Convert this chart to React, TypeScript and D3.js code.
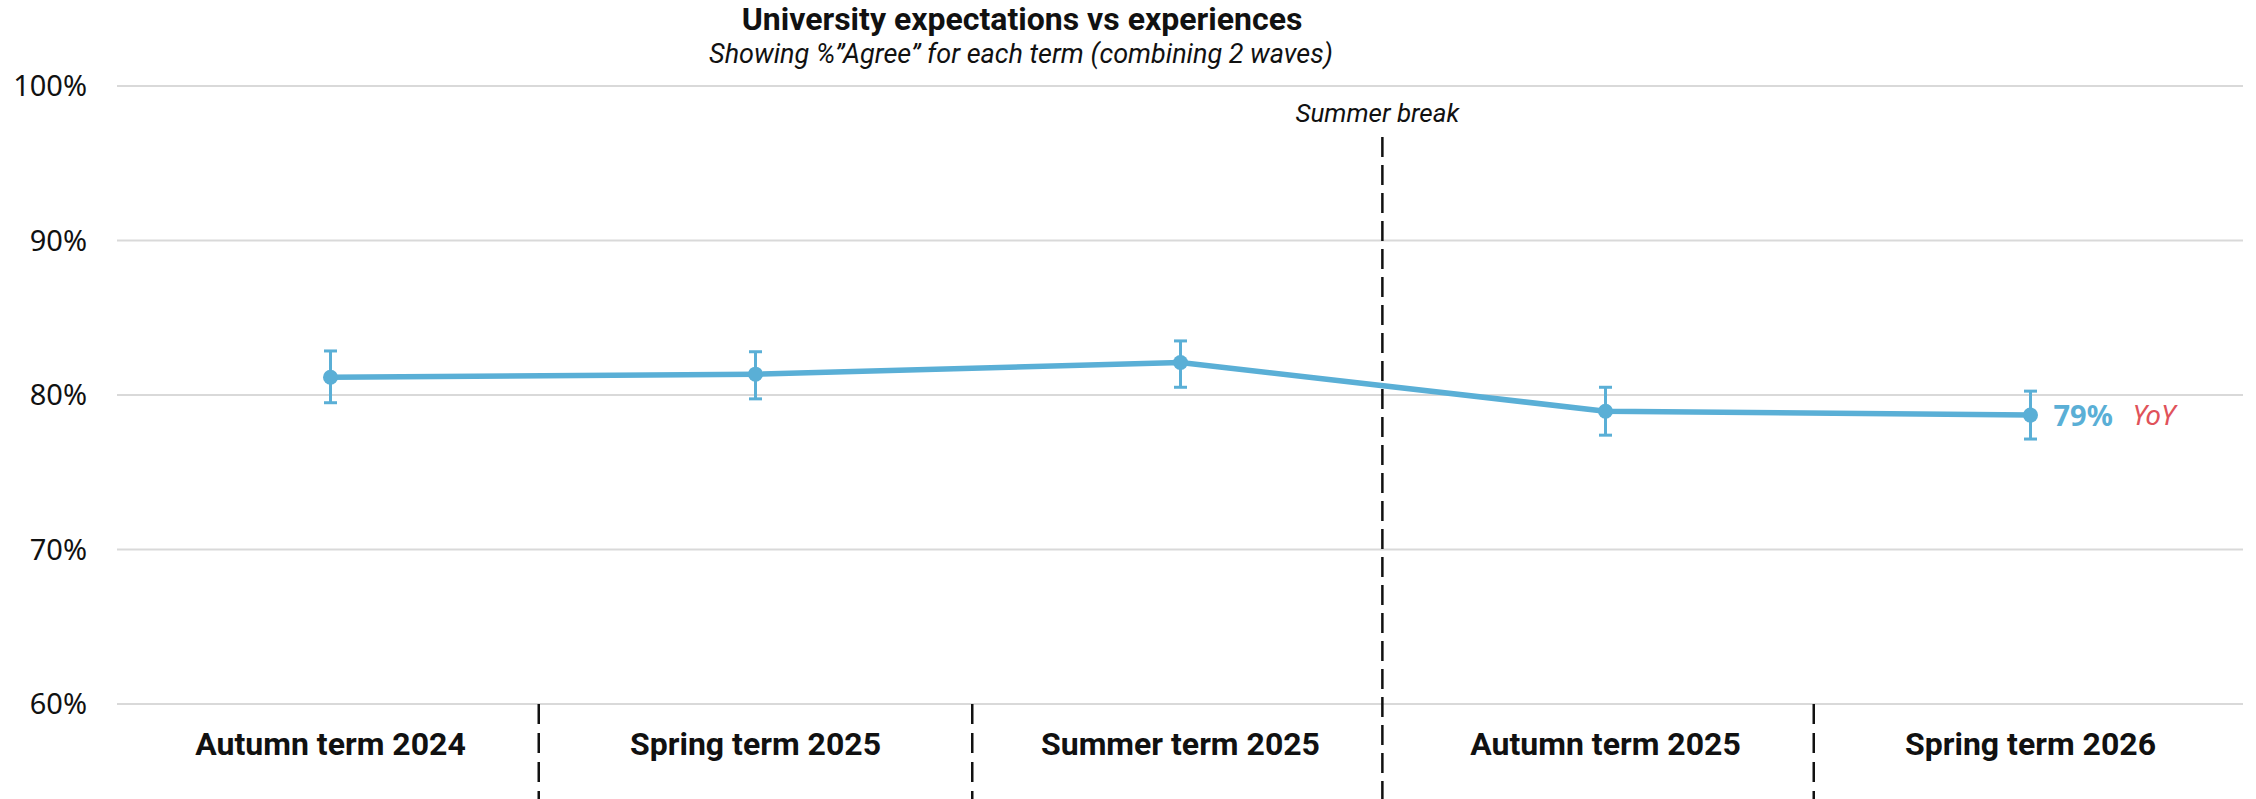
import React from "react";
import * as d3 from "d3";

const categories = ["Autumn term 2024", "Spring term 2025", "Summer term 2025", "Autumn term 2025", "Spring term 2026"];
const values = [81.15, 81.35, 82.1, 78.95, 78.7];
const errLow = [79.5, 79.75, 80.5, 77.4, 77.15];
const errHigh = [82.85, 82.8, 83.5, 80.5, 80.25];
const yTicks = [60, 70, 80, 90, 100];
const separators = [0.49, 1.51, 3.49];
const summerBreakAt = 2.475;
const lastLabel = "79%";
const lastTag = "YoY";

const W = 2256;
const H = 799;
const BLUE = "#5aafd6";

export default function App() {
  const x = d3.scaleBand<string>().domain(categories).range([118, 2243]).padding(0);
  const cx = (c: string) => (x(c) as number) + x.bandwidth() / 2;
  const xi = d3.scaleLinear().domain([0, categories.length - 1]).range([cx(categories[0]), cx(categories[categories.length - 1])]);
  const y = d3.scaleLinear().domain([60, 100]).range([704, 86]);
  const line = d3.line<number>().x((_, i) => cx(categories[i])).y((v) => y(v));
  const lastI = values.length - 1;

  return (
    <div style={{ position: "absolute", left: 0, top: 0 }}>
      <svg width={W} height={H} style={{ display: "block", background: "#fff" }}>
        <text x={1022} y={30} textAnchor="middle" fontFamily="Roboto" fontWeight={700} fontSize={32} fill="#111">
          University expectations vs experiences
        </text>
        <text x={1021} y={63} textAnchor="middle" fontFamily="Roboto" fontStyle="italic" fontSize={27} fill="#111">
          Showing %”Agree” for each term (combining 2 waves)
        </text>
        {yTicks.map((t) => (
          <g key={t}>
            <line x1={117} x2={2243} y1={y(t)} y2={y(t)} stroke="#d9d9d9" strokeWidth={2} />
            <text x={87} y={y(t)} dy="0.36em" textAnchor="end" fontFamily="Noto Sans" fontSize={29} fill="#111">
              {t}%
            </text>
          </g>
        ))}
        {separators.map((s) => (
          <line key={s} x1={xi(s)} x2={xi(s)} y1={y(60)} y2={H} stroke="#111" strokeWidth={2.5} strokeDasharray="20,9" />
        ))}
        <line x1={xi(summerBreakAt)} x2={xi(summerBreakAt)} y1={137} y2={H} stroke="#111" strokeWidth={2.5} strokeDasharray="20,8" />
        <text x={xi(summerBreakAt) - 5} y={122} textAnchor="middle" fontFamily="Roboto" fontStyle="italic" fontSize={26} fill="#111">
          Summer break
        </text>
        {categories.map((c) => (
          <text key={c} x={cx(c)} y={755} textAnchor="middle" fontFamily="Roboto" fontWeight={700} fontSize={32} fill="#111">
            {c}
          </text>
        ))}
        <path d={line(values) || ""} fill="none" stroke={BLUE} strokeWidth={5.5} strokeLinejoin="round" />
        {categories.map((c, i) => (
          <g key={c} stroke={BLUE} strokeWidth={3}>
            <line x1={cx(c)} x2={cx(c)} y1={y(errLow[i])} y2={y(errHigh[i])} />
            <line x1={cx(c) - 6.5} x2={cx(c) + 6.5} y1={y(errLow[i])} y2={y(errLow[i])} />
            <line x1={cx(c) - 6.5} x2={cx(c) + 6.5} y1={y(errHigh[i])} y2={y(errHigh[i])} />
            <circle cx={cx(c)} cy={y(values[i])} r={7.5} fill={BLUE} stroke="none" />
          </g>
        ))}
        <text x={cx(categories[lastI]) + 23} y={y(values[lastI])} dy="0.36em" fontFamily="Noto Sans" fontWeight={700} fontSize={29} fill={BLUE}>
          {lastLabel}
        </text>
        <text x={cx(categories[lastI]) + 102} y={y(values[lastI])} dy="0.36em" fontFamily="Noto Sans" fontStyle="italic" fontSize={28} fill="#e0525a">
          {lastTag}
        </text>
      </svg>
    </div>
  );
}
